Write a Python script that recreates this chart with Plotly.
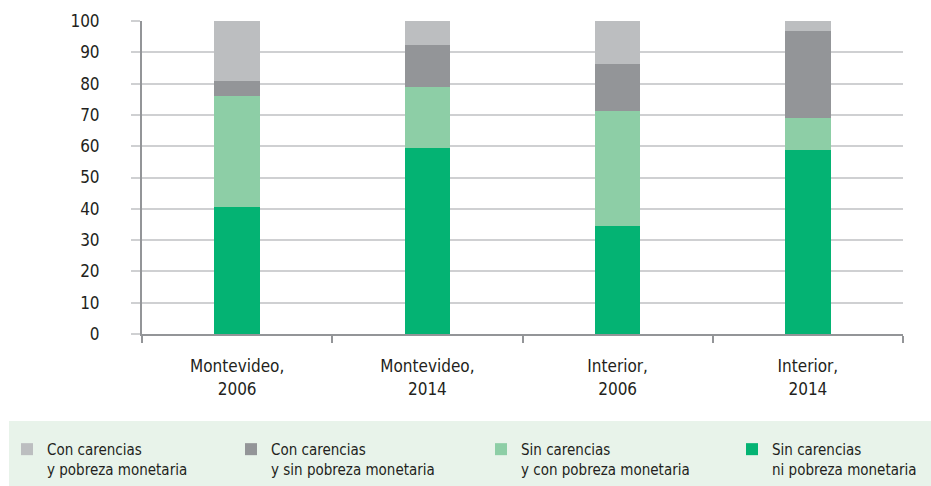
import plotly.graph_objects as go

categories = ["Montevideo,<br>2006", "Montevideo,<br>2014", "Interior,<br>2006", "Interior,<br>2014"]
sin_ni = [40.6, 59.4, 34.5, 58.8]
sin_con = [35.4, 19.5, 36.7, 10.2]
con_sin = [4.8, 13.4, 15.1, 27.8]
con_y = [19.2, 7.7, 13.7, 3.2]

series_names = [
    "Sin carencias<br>ni pobreza monetaria",
    "Sin carencias<br>y con pobreza monetaria",
    "Con carencias<br>y sin pobreza monetaria",
    "Con carencias<br>y pobreza monetaria",
]
series_values = [sin_ni, sin_con, con_sin, con_y]
colors = ["#04b373", "#8dcea6", "#939598", "#bcbec0"]
y_ticks = list(range(0, 101, 10))

FONT = "DejaVu Sans Condensed, Liberation Sans Narrow, sans-serif"

# one legend per series so each entry sits where the reference puts it
legend_ids = ["legend4", "legend3", "legend2", "legend"]
legend_x = [(732 - 142) / 761, (481 - 142) / 761, (231 - 142) / 761, (7 - 142) / 761]

fig = go.Figure()
for name, vals, col, lid in zip(series_names, series_values, colors, legend_ids):
    fig.add_trace(go.Bar(x=categories, y=vals, name=name, marker_color=col,
                         marker_line_width=0, width=0.24, legend=lid))

layout_legends = {}
for lid, lx in zip(legend_ids, legend_x):
    layout_legends[lid] = dict(
        x=lx, xanchor="left", y=-0.316, yanchor="top",
        bgcolor="rgba(0,0,0,0)", font=dict(size=15, family=FONT, color="#231f20"),
        valign="top", itemwidth=30, orientation="h",
    )

fig.update_layout(
    width=931, height=486,
    barmode="stack",
    paper_bgcolor="white", plot_bgcolor="white",
    margin=dict(l=142, r=28, t=21, b=152, autoexpand=False),
    font=dict(family=FONT, size=17, color="#231f20"),
    showlegend=True,
    shapes=[dict(type="rect", xref="paper", yref="paper",
                 x0=-0.1748, x1=1.04, y0=-0.278, y1=-0.49,
                 fillcolor="#e8f3ea", line_width=0, layer="below")],
    **layout_legends,
)
fig.update_xaxes(
    showline=True, linecolor="#939598", linewidth=2,
    ticks="outside", tickson="boundaries", ticklen=7, tickcolor="#939598", tickwidth=2,
    showgrid=False, tickfont=dict(size=17), automargin=False, ticklabelstandoff=16,
)
fig.update_yaxes(
    range=[0, 100], tickvals=y_ticks, showline=True, linecolor="#939598", linewidth=2,
    showgrid=True, gridcolor="#cfd0d2", gridwidth=2,
    ticks="outside", ticklen=9, tickcolor="#cfd0d2", tickwidth=2,
    tickfont=dict(size=17), zeroline=False, automargin=False, ticklabelstandoff=28,
)
fig.write_html("out.html", config={"displayModeBar": False},
               post_script="document.body.style.margin='0';document.body.style.overflow='hidden';")
